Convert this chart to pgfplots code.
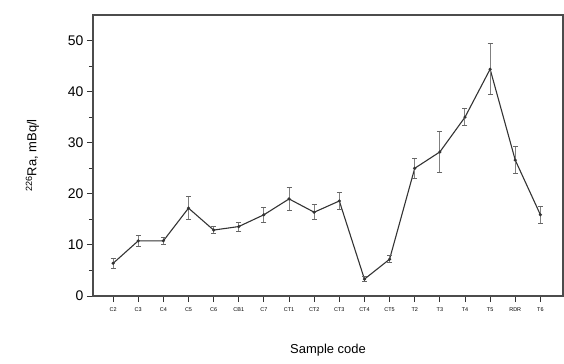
\documentclass[border=0pt]{standalone}
\usepackage{pgfplots}
\pgfplotsset{compat=1.18}
\usepackage{fontspec}
\setmainfont{Liberation Sans}
\begin{document}
\begin{tikzpicture}[x=1bp,y=1bp]
\begin{axis}[
  at={(0,0)}, anchor=south west,
  scale only axis, width=470bp, height=281bp,
  xmin=-0.8, xmax=17.9, ymin=0, ymax=55,
  axis line style={line width=1.4pt, draw=black!70},
  xtick={0,...,17},
  xticklabels={C2,C3,C4,C5,C6,CB1,C7,CT1,CT2,CT3,CT4,CT5,T2,T3,T4,T5,RDR,T6},
  x tick label style={font=\fontsize{5.5}{6}\selectfont, yshift=-2bp},
  ytick={0,10,20,30,40,50},
  minor ytick={5,15,25,35,45},
  /pgf/number format/assume math mode=true,
  y tick label style={font=\fontsize{14}{16}\selectfont},
  tick style={black!80, line width=0.9pt},
  tick align=outside, tick pos=left,
  major tick length=6bp, minor tick length=4bp,
  xlabel={Sample code}, ylabel={\textsuperscript{226}Ra, mBq/l},
  label style={font=\fontsize{13}{15}\selectfont},
  xlabel style={yshift=-26bp},
  ylabel style={yshift=22bp},
]
\addplot[black!80, line width=1.1pt, mark=*, mark size=1pt,
  error bars/.cd, y dir=both, y explicit,
  error bar style={black!50, line width=1pt},
  error mark options={rotate=90, mark size=2.5pt, black!60, line width=0.8pt}]
coordinates {
(0,6.4) +- (0,1.0)
(1,10.8) +- (0,1.0)
(2,10.8) +- (0,0.7)
(3,17.2) +- (0,2.3)
(4,12.9) +- (0,0.7)
(5,13.6) +- (0,0.9)
(6,15.9) +- (0,1.5)
(7,19.0) +- (0,2.3)
(8,16.4) +- (0,1.5)
(9,18.6) +- (0,1.6)
(10,3.3) +- (0,0.5)
(11,7.2) +- (0,0.7)
(12,25.0) +- (0,2.0)
(13,28.2) +- (0,4.0)
(14,35.0) +- (0,1.7)
(15,44.4) +- (0,5.0)
(16,26.6) +- (0,2.6)
(17,15.9) +- (0,1.7)
};
\end{axis}
\path (-93,-67) rectangle (471,296);
\end{tikzpicture}
\end{document}
